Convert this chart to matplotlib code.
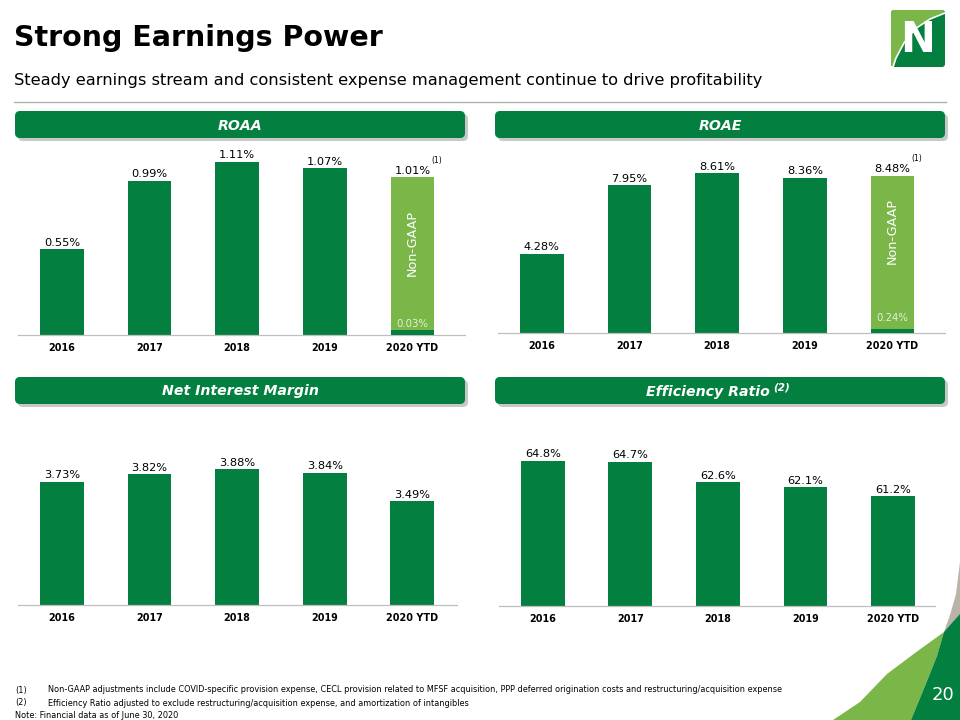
import numpy as np
import matplotlib
matplotlib.use("Agg")
import matplotlib.pyplot as plt
from matplotlib.patches import FancyBboxPatch, Polygon

plt.rcParams['font.family'] = ['DejaVu Sans']

# data
years = ['2016', '2017', '2018', '2019', '2020 YTD']
roaa = [0.55, 0.99, 1.11, 1.07, 1.01]
roaa_gaap = 0.03
roae = [4.28, 7.95, 8.61, 8.36, 8.48]
roae_gaap = 0.24
nim = [3.73, 3.82, 3.88, 3.84, 3.49]
eff = [64.8, 64.7, 62.6, 62.1, 61.2]

DARK = '#037F3F'
LIGHT = '#7AB648'
W, H = 960, 720

fig = plt.figure(figsize=(9.6, 7.2), dpi=100)

# background axes in pixel units for the slide decoration
bg = fig.add_axes([0, 0, 1, 1])
bg.set_xlim(0, W)
bg.set_ylim(H, 0)
bg.axis('off')


def px_axes(left, top, right, bottom):
    ax = fig.add_axes([left / W, 1 - bottom / H, (right - left) / W, (bottom - top) / H])
    ax.patch.set_visible(False)
    return ax


# title block
bg.text(14, 38, 'Strong Earnings Power', fontsize=20.5, fontweight='bold', va='center', ha='left')
bg.text(14, 80, 'Steady earnings stream and consistent expense management continue to drive profitability',
        fontsize=11.7, va='center', ha='left')
bg.plot([14, 946], [102, 102], color='#b0b0b0', lw=1)

# logo
logo = FancyBboxPatch((891, 10), 54, 57, boxstyle='round,pad=0,rounding_size=3',
                      fc=DARK, ec='none')
bg.add_patch(logo)
lg = Polygon([(891, 10), (945, 10), (945, 13), (930, 19), (915, 29), (904, 43), (896, 58), (893, 67), (891, 67)],
             closed=True, fc=LIGHT, ec='none')
bg.add_patch(lg)
lg.set_clip_path(logo)
bg.plot([893, 896, 904, 915, 930, 945], [67, 58, 43, 29, 19, 13], color='white', lw=1.2)
bg.text(918, 40, 'N', fontsize=30, fontweight='bold', color='white', ha='center', va='center')

# bottom right decoration
bg.add_patch(Polygon([(960, 562), (956, 594), (950, 615), (944, 632), (960, 618)], fc='#b9b3aa', ec='none'))
bg.add_patch(Polygon([(833, 720), (860, 702), (887, 674), (915, 653), (944, 632), (937, 656), (925, 686), (911, 720)],
                     fc=LIGHT, ec='none'))
bg.add_patch(Polygon([(911, 720), (925, 686), (937, 656), (944, 632), (960, 614), (960, 720)], fc=DARK, ec='none'))
bg.text(943, 695, '20', fontsize=13, color='white', ha='center', va='center')


# section banners
def banner(x0, x1, y0, y1, label):
    bg.add_patch(FancyBboxPatch((x0 + 3, y0 + 3), x1 - x0, y1 - y0,
                                boxstyle='round,pad=0,rounding_size=5', fc='#c8c8c8', ec='none'))
    bg.add_patch(FancyBboxPatch((x0, y0), x1 - x0, y1 - y0,
                                boxstyle='round,pad=0,rounding_size=5', fc=DARK, ec='none'))
    if label:
        bg.text((x0 + x1) / 2, (y0 + y1) / 2 + 1, label, fontsize=10.2, fontweight='bold',
                fontstyle='italic', color='white', ha='center', va='center')


banner(15, 465, 111, 138, 'ROAA')
banner(495, 945, 111, 138, 'ROAE')
banner(15, 465, 377, 404, 'Net Interest Margin')
banner(495, 945, 377, 404, None)
bg.text(708, 392, 'Efficiency Ratio', fontsize=10.2, fontweight='bold', fontstyle='italic',
        color='white', ha='center', va='center')
bg.text(773, 388, '(2)', fontsize=7.5, fontweight='bold', fontstyle='italic',
        color='white', ha='left', va='center')


def panel(rect, vals, ylim, xr):
    ax = px_axes(*rect)
    x = np.arange(len(years))
    ax.bar(x, vals, width=0.5, color=DARK, zorder=2, bottom=ylim[0])
    ax.set_ylim(*ylim)
    ax.set_xlim(-0.5, xr)
    for s in ['top', 'left', 'right']:
        ax.spines[s].set_visible(False)
    ax.spines['bottom'].set_color('#bfbfbf')
    ax.spines['bottom'].set_linewidth(0.9)
    ax.set_yticks([])
    ax.set_xticks(x)
    ax.set_xticklabels(years, fontsize=6.9, fontweight='bold')
    ax.tick_params(axis='x', length=0, pad=6)
    return ax


def labels(ax, xs, vals, fmt):
    for xi, v in zip(xs, vals):
        ax.annotate(fmt.format(v), (xi, v), xytext=(0, 1), textcoords='offset points',
                    ha='center', va='bottom', fontsize=8.2, color='#000000')


# ROAA
ax1 = panel((18, 140, 465, 335), roaa[:4] + [0], (0, 1.25), 4.6)
ax1.bar(4, roaa[4], width=0.5, color=LIGHT, zorder=2)
ax1.bar(4, roaa_gaap, width=0.5, color=DARK, zorder=3)
labels(ax1, range(5), roaa, '{:.2f}%')
ax1.annotate('(1)', (4.22, roaa[4]), xytext=(0, 9), textcoords='offset points',
             ha='left', va='bottom', fontsize=5.5)
ax1.text(4, 0.59, 'Non-GAAP', rotation=90, color='white', fontsize=9.2, ha='center', va='center', zorder=4)
ax1.text(4, 0.068, '{:.2f}%'.format(roaa_gaap), color='#e3f1d9', fontsize=7.3, ha='center', va='center', zorder=4)

# ROAE
ax2 = panel((498, 140, 945, 333), roae[:4] + [0], (0, 10.4), 4.6)
ax2.bar(4, roae[4], width=0.5, color=LIGHT, zorder=2)
ax2.bar(4, roae_gaap, width=0.5, color=DARK, zorder=3)
labels(ax2, range(5), roae, '{:.2f}%')
ax2.annotate('(1)', (4.22, roae[4]), xytext=(0, 9), textcoords='offset points',
             ha='left', va='bottom', fontsize=5.5)
ax2.text(4, 5.5, 'Non-GAAP', rotation=90, color='white', fontsize=9.2, ha='center', va='center', zorder=4)
ax2.text(4, 0.8, '{:.2f}%'.format(roae_gaap), color='#e3f1d9', fontsize=7.3, ha='center', va='center', zorder=4)

# Net interest margin
ax3 = panel((18, 420, 457, 605), [v - 2.225 for v in nim], (2.225, 4.481), 4.51)
labels(ax3, range(5), nim, '{:.2f}%')

# Efficiency ratio
ax4 = panel((499, 420, 935, 606), [v - 50.1 for v in eff], (50.1, 68.9), 4.48)
labels(ax4, range(5), eff, '{:.1f}%')

# footnotes
fs = 5.9
bg.text(15, 690, '(1)', fontsize=fs, va='center')
bg.text(48, 690, 'Non-GAAP adjustments include COVID-specific provision expense, CECL provision related to MFSF '
        'acquisition, PPP deferred origination costs and restructuring/acquisition expense', fontsize=fs, va='center')
bg.text(15, 703, '(2)', fontsize=fs, va='center')
bg.text(48, 703, 'Efficiency Ratio adjusted to exclude restructuring/acquisition expense, and amortization of intangibles',
        fontsize=fs, va='center')
bg.text(15, 716, 'Note: Financial data as of June 30, 2020', fontsize=fs, va='center')

fig.savefig('out.png', dpi=100)
